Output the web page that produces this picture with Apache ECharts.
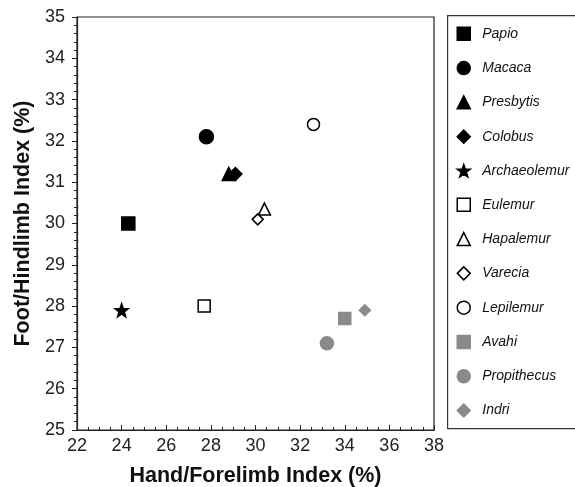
<!DOCTYPE html>
<html>
<head>
<meta charset="utf-8">
<script src="https://cdn.jsdelivr.net/npm/echarts@6/dist/echarts.min.js"></script>
<style>html,body{margin:0;padding:0;background:#fff}#c{width:575px;height:487px}</style>
</head>
<body>
<div id="c"></div>
<script>
var species = ['Papio','Macaca','Presbytis','Colobus','Archaeolemur','Eulemur','Hapalemur','Varecia','Lepilemur','Avahi','Propithecus','Indri'];
var handIndex = [24.3, 27.8, 28.8, 29.1, 24.0, 27.7, 30.4, 30.1, 32.6, 34.0, 33.2, 34.9];
var footIndex = [30.0, 32.1, 31.2, 31.2, 27.9, 28.0, 30.35, 30.1, 32.4, 27.7, 27.1, 27.9];
var xTicks = {min: 22, max: 38, step: 2};
var yTicks = {min: 25, max: 35, step: 1};

var STAR = 'path://M0,-10 L2.35,-3.24 L9.51,-3.09 L3.8,1.24 L5.88,8.09 L0,4 L-5.88,8.09 L-3.8,1.24 L-9.51,-3.09 L-2.35,-3.24 Z';
var styles = [
  {symbol:'rect', size:13, fill:'#000', stroke:'#000'},
  {symbol:'circle', size:14, fill:'#000', stroke:'#000'},
  {symbol:'triangle', size:13, fill:'#000', stroke:'#000'},
  {symbol:'diamond', size:13, fill:'#000', stroke:'#000'},
  {symbol:STAR, size:13, fill:'#000', stroke:'#000'},
  {symbol:'rect', size:12, fill:'#fff', stroke:'#000'},
  {symbol:'triangle', size:12, fill:'#fff', stroke:'#000'},
  {symbol:'diamond', size:11, fill:'#fff', stroke:'#000'},
  {symbol:'circle', size:12, fill:'#fff', stroke:'#000'},
  {symbol:'rect', size:12, fill:'#8a8a8a', stroke:'#8a8a8a'},
  {symbol:'circle', size:13, fill:'#8a8a8a', stroke:'#8a8a8a'},
  {symbol:'diamond', size:11, fill:'#8a8a8a', stroke:'#8a8a8a'}
];

var series = species.map(function(name, i){
  var s = styles[i];
  return {
    name: name,
    type: 'scatter',
    symbol: s.symbol,
    symbolSize: s.size,
    itemStyle: {color: s.fill, borderColor: s.stroke, borderWidth: 1.5, opacity: 1},
    data: [[handIndex[i], footIndex[i]]],
    z: 3
  };
});

var font = 'Liberation Sans, Arial, Helvetica, sans-serif';
var chart = echarts.init(document.getElementById('c'), null, {renderer:'canvas'});
chart.setOption({
  animation: false,
  backgroundColor: '#fff',
  grid: {left: 77, right: 141, top: 17, bottom: 57, outerBoundsMode: 'none', containLabel: false,
         show: true, borderColor: '#222', borderWidth: 1.2, backgroundColor: 'transparent'},
  xAxis: {
    type: 'value', min: xTicks.min, max: xTicks.max, interval: xTicks.step,
    name: 'Hand/Forelimb Index (%)', nameLocation: 'middle', nameGap: 35,
    nameTextStyle: {fontFamily: font, fontWeight: 'bold', fontSize: 21.5, color: '#111'},
    axisLine: {show: true, lineStyle: {color: '#222', width: 1.2}},
    axisTick: {show: true, inside: true, length: 5, lineStyle: {color: '#222'}},
    minorTick: {show: true, splitNumber: 4, length: 3, lineStyle: {color: '#222'}},
    axisLabel: {fontFamily: font, fontSize: 18, color: '#222', margin: 7},
    splitLine: {show: false}
  },
  yAxis: {
    type: 'value', min: yTicks.min, max: yTicks.max, interval: yTicks.step,
    name: 'Foot/Hindlimb Index (%)', nameLocation: 'middle', nameGap: 43,
    nameTextStyle: {fontFamily: font, fontWeight: 'bold', fontSize: 21.5, color: '#111'},
    axisLine: {show: true, lineStyle: {color: '#222', width: 1.2}},
    axisTick: {show: true, inside: false, length: 5, lineStyle: {color: '#222'}},
    minorTick: {show: true, splitNumber: 5, length: 3, lineStyle: {color: '#222'}},
    axisLabel: {fontFamily: font, fontSize: 18, color: '#222', margin: 12},
    splitLine: {show: false}
  },
  legend: {
    orient: 'vertical', left: 451.5, top: 21.5, z: 20,
    itemWidth: 13, itemHeight: 13, itemGap: 19.8,
    data: species,
    itemStyle: {borderWidth: 1.5},
    textStyle: {fontFamily: font, fontStyle: 'italic', fontSize: 14, color: '#111', padding: [0, 0, 0, 7]},
    selectedMode: false
  },
  graphic: [{
    type: 'rect', left: 447, top: 15, z: 10,
    shape: {width: 140, height: 413},
    style: {fill: '#fff', stroke: '#333', lineWidth: 1.2}
  }],
  series: series
});
</script>
</body>
</html>
